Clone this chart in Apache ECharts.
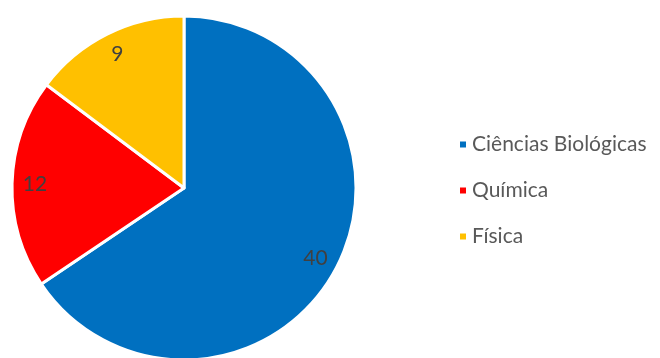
<!DOCTYPE html>
<html>
<head>
<meta charset="utf-8">
<script src="https://cdn.jsdelivr.net/npm/echarts@6/dist/echarts.min.js"></script>
<style>
  html, body { margin: 0; padding: 0; background: #fff; }
  #chart { width: 660px; height: 358px; }
</style>
</head>
<body>
<div id="chart"></div>
<script>
const categories = ['Ciências Biológicas', 'Química', 'Física'];
const values = [40, 12, 9];
const colors = ['#0070C0', '#FF0000', '#FFC000'];

const pieData = categories.map((name, i) => ({ name: name, value: values[i], itemStyle: { color: colors[i] } }));

const chart = echarts.init(document.getElementById('chart'));
chart.setOption({
  animation: false,
  legend: {
    orient: 'vertical',
    left: 453,
    top: 129,
    itemWidth: 8,
    itemHeight: 8,
    itemGap: 25,
    icon: 'rect',
    data: categories,
    textStyle: { fontFamily: 'Lato', fontSize: 21, color: '#595959' }
  },
  series: [
    {
      type: 'pie',
      center: [184, 188],
      radius: [0, 172],
      startAngle: 90,
      clockwise: true,
      data: pieData,
      itemStyle: { borderColor: '#fff', borderWidth: 3 },
      label: { show: false },
      labelLine: { show: false },
      emphasis: { disabled: true }
    },
    {
      // invisible ring used only to place the value labels near the rim
      type: 'pie',
      center: [184, 188],
      radius: [0, 292],
      startAngle: 90,
      clockwise: true,
      silent: true,
      data: pieData.map(d => ({ name: d.name, value: d.value, itemStyle: { color: 'rgba(0,0,0,0)' } })),
      itemStyle: { borderWidth: 0 },
      label: {
        show: true,
        position: 'inside',
        formatter: '{c}',
        fontFamily: 'Lato',
        fontSize: 21,
        color: '#404040'
      },
      labelLine: { show: false },
      emphasis: { disabled: true }
    }
  ]
});
</script>
</body>
</html>
